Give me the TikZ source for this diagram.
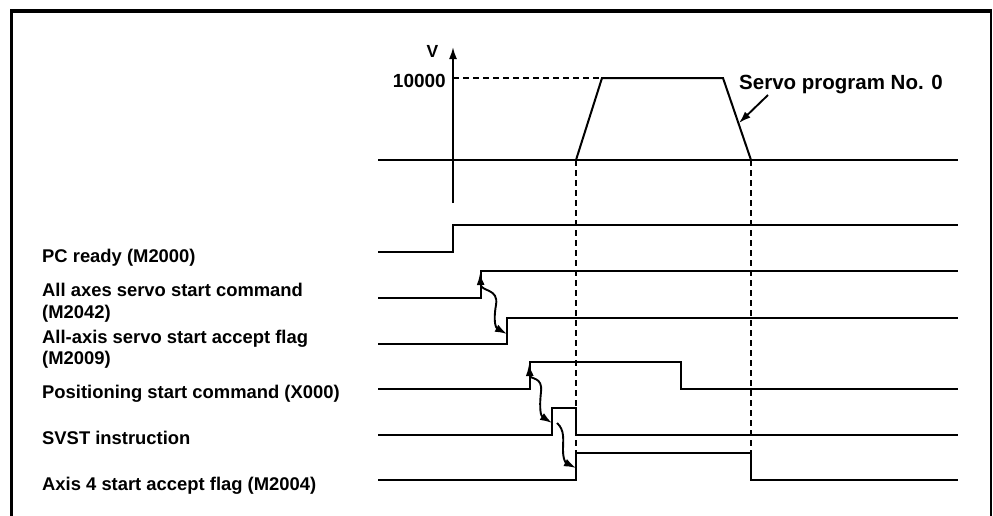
\documentclass[tikz,border=0pt]{standalone}
\usepackage{fontspec}
\setmainfont{Liberation Sans}
\usetikzlibrary{arrows.meta}
\begin{document}
\begin{tikzpicture}[x=1pt,y=-1pt,
  sig/.style={line width=2pt,line join=miter},
  guide/.style={line width=1.6pt,dash pattern=on 6pt off 4pt},
  frame/.style={line width=3.5pt},
  lbl/.style={font=\fontsize{18.4}{20}\selectfont\bfseries,anchor=base west,inner sep=0pt},
  tip/.style={-{Latex[length=12pt,width=8pt]},line width=1.9pt},
  tiptwo/.style={{Latex[length=12pt,width=8pt]}-{Latex[length=12pt,width=8pt]},line width=1.9pt}]
\useasboundingbox (0,0) rectangle (993,515);
% frame
\draw[frame] (11.5,517) -- (11.5,11) -- (990.5,11);
\draw[line width=2pt] (990.5,9) -- (990.5,517);
% labels
\node[lbl] (pc) at (42,262) {PC ready (M2000)};
\node[lbl] (m42a) at (42,296) {All axes servo start command};
\node[lbl] (m42b) at (42,318) {(M2042)};
\node[lbl] (m09a) at (42,343) {All-axis servo start accept flag};
\node[lbl] (m09b) at (42,364) {(M2009)};
\node[lbl] (x0) at (42,398) {Positioning start command (X000)};
\node[lbl] (svst) at (42,444) {SVST instruction};
\node[lbl] (m04) at (42,490) {Axis 4 start accept flag (M2004)};
% velocity axis
\node[font=\fontsize{17.5}{18}\selectfont\bfseries,inner sep=0pt] (v) at (432.5,51) {V};
\node[font=\fontsize{19}{20}\selectfont\bfseries,anchor=base east,inner sep=0pt] (top) at (446,87.5) {10000};
\coordinate (axb) at (453,203);
\coordinate (axt) at (453,47);
\draw[tip] (axb) -- (axt);
% velocity trapezoid
\coordinate (t1) at (576,160);
\coordinate (t2) at (602,78);
\coordinate (t3) at (723,78);
\coordinate (t4) at (751,160);
\draw[guide] (453,78) -- (t2);
\draw[sig] (378,160) -- (958,160);
\draw[sig] (t1) -- (t2) -- (t3) -- (t4);
\node[font=\fontsize{20.5}{22}\selectfont\bfseries,anchor=base west,inner sep=0pt] (sp) at (739,89) {Servo program No. 0};
\coordinate (spa) at (768,95);
\coordinate (spb) at (739,123);
\draw[tip] (spa) -- (spb);
% guide lines
\draw[guide] (t1) -- (576,480);
\draw[guide] (t4) -- (751,453);
% signals
\draw[sig] (378,252) -- (453,252) -- (453,225) -- (958,225);
\draw[sig] (378,298) -- (481,298) -- (481,271) -- (958,271);
\draw[sig] (378,344) -- (507,344) -- (507,318) -- (958,318);
\draw[sig] (378,389) -- (530,389) -- (530,362) -- (681,362) -- (681,389) -- (958,389);
\draw[sig] (378,435) -- (552,435) -- (552,408) -- (576,408) -- (576,435) -- (958,435);
\draw[sig] (378,480) -- (576,480) -- (576,453) -- (751,453) -- (751,480) -- (958,480);
% causal arrows
\coordinate (a1s) at (480,273);
\coordinate (a1e) at (507,334);
\draw[tiptwo] (a1s) .. controls (481,292) and (499,288) .. (496,305) .. controls (493,322) and (496,328) .. (a1e);
\coordinate (a2s) at (529,364);
\coordinate (a2e) at (552,423);
\draw[tiptwo] (a2s) .. controls (530,380) and (543,376) .. (541,392) .. controls (539,410) and (541,416) .. (a2e);
\coordinate (a3s) at (557,423);
\coordinate (a3e) at (576,468);
\draw[tip] (a3s) .. controls (565,430) and (563,440) .. (563,450) .. controls (563,460) and (566,463) .. (a3e);
\end{tikzpicture}
\end{document}
